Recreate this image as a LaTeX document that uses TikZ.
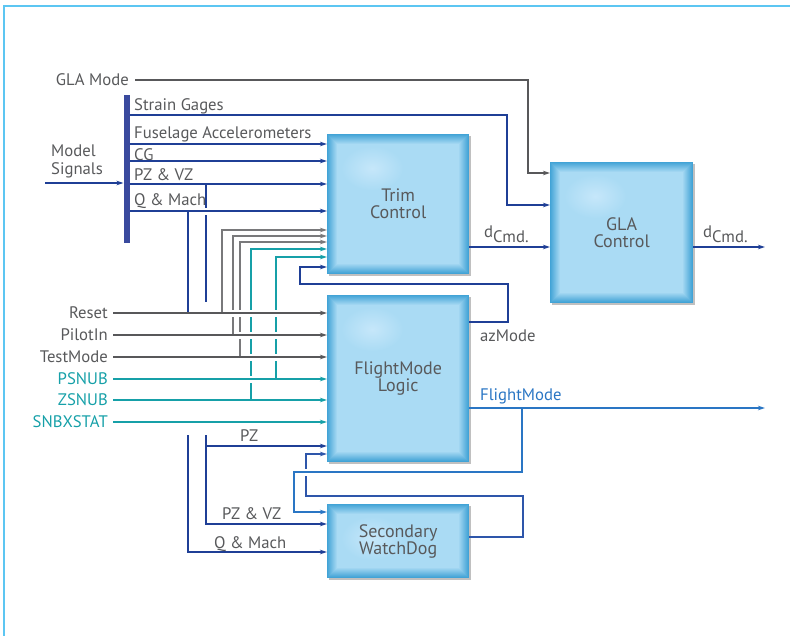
\documentclass[tikz,border=0pt]{standalone}
\usepackage{fontspec}
\setmainfont{PT Sans}
\usetikzlibrary{arrows.meta,shadows,calc}
\definecolor{txt}{HTML}{58595B}
\definecolor{gry}{HTML}{58585A}
\definecolor{gryl}{HTML}{79797B}
\definecolor{navy}{HTML}{1F3F96}
\definecolor{navyl}{HTML}{2E56AA}
\definecolor{tealc}{HTML}{16A0A8}
\definecolor{fmblue}{HTML}{2A76C4}
\definecolor{framec}{HTML}{5CC6F2}
\definecolor{busc}{HTML}{3A4A9E}
\definecolor{bedge}{HTML}{42A3D6}
\definecolor{binner}{HTML}{AADBF4}
\definecolor{bhl}{HTML}{C6E7FA}
\tikzset{
  arr/.style={-{Stealth[length=7pt,width=4.5pt]}},
  wline/.style={line width=1.8pt},
  tline/.style={line width=1.3pt},
  lbl/.style={anchor=base west, inner sep=0pt},
  lblr/.style={anchor=base east, inner sep=0pt},
  gapw/.style={draw=white, line width=7pt},
  blk/.style={anchor=north west, inner sep=0pt, align=center,
    font=\fontsize{18}{17}\selectfont, text=txt, fill=bedge,
    drop shadow={shadow xshift=1.5pt, shadow yshift=-1.5pt, opacity=0.45, fill=black!55},
    path picture={
      \foreach \k in {1,...,10}{
        \pgfmathtruncatemacro\pp{\k*10}
        \fill[binner!\pp!bedge] ([shift={(\k pt,\k pt)}]path picture bounding box.south west)
          rectangle ([shift={(-\k pt,-\k pt)}]path picture bounding box.north east);
      }
      \shade[inner color=bhl, outer color=binner]
        ([shift={(45pt,-34pt)}]path picture bounding box.north west)
        ellipse [x radius=31pt, y radius=22pt];
    }}
}
\begin{document}
\begin{tikzpicture}[x=1pt,y=-1pt, font=\fontsize{16.7}{18}\selectfont, text=txt]
\useasboundingbox (0,0) rectangle (790,635);
% frame
\draw[framec, line width=2pt] (4,636) -- (4,6) -- (791,6);

% blocks
\node[blk, minimum width=142pt, minimum height=140pt] (trim) at (327,134) {Trim\\Control};
\node[blk, minimum width=143pt, minimum height=141pt] (gla) at (550,162) {GLA\\Control};
\node[blk, minimum width=142pt, minimum height=167pt] (fm) at (327,295) {FlightMode\\Logic};
\node[blk, minimum width=142pt, minimum height=74pt] (wd) at (327,504) {Secondary\\WatchDog};

% bus bar
\node[fill=busc, minimum width=6.5pt, minimum height=148pt, inner sep=0pt, anchor=north west] (bus) at (123.5,95) {};

% labels
\node[lblr] (glamode) at (129,85) {GLA Mode};
\node[anchor=north west, align=left, inner sep=0pt] (model) at (51,145) {Model\\Signals};
\node[lbl] (lsg) at (134,110) {Strain Gages};
\node[lbl] (lfa) at (134,138) {Fuselage Accelerometers};
\node[lbl] (lcg) at (134,160) {CG};
\node[lbl] (lpv) at (134,180) {PZ \& VZ};
\node[lbl] (lqm) at (134,205) {Q \& Mach};
\node[lblr] (lreset) at (108,318) {Reset};
\node[lblr] (lpilot) at (108,340) {PilotIn};
\node[lblr] (ltest) at (108,362) {TestMode};
\node[lblr, text=tealc] (lpsnub) at (108,384) {PSNUB};
\node[lblr, text=tealc] (lzsnub) at (108,405) {ZSNUB};
\node[lblr, text=tealc] (lsnbx) at (108,427) {SNBXSTAT};
\node[lbl] (lpz) at (240,441) {PZ};
\node[lbl] (lwpv) at (222,519) {PZ \& VZ};
\node[lbl] (lwqm) at (214,548) {Q \& Mach};
\node[lbl] (ld1) at (484,237) {d\raisebox{-5pt}{Cmd.}};
\node[lbl] (ld2) at (703,237) {d\raisebox{-5pt}{Cmd.}};
\node[lbl] (laz) at (480,341) {azMode};
\node[lbl, text=fmblue] (lfmo) at (480,400) {FlightMode};

% coordinates
\coordinate (yGM) at (0,80);
\coordinate (ySG) at (0,115);
\coordinate (yFA) at (0,144);
\coordinate (yCG) at (0,161);
\coordinate (yPV) at (0,184);
\coordinate (yQM) at (0,211);
\coordinate (yD) at (0,247);
\coordinate (yAZ) at (0,322);
\coordinate (yFM) at (0,408);
\coordinate (yPZ) at (0,446);
\coordinate (yWP) at (0,524);
\coordinate (yWQ) at (0,552);
\coordinate (yWD) at (0,537);
\coordinate (tA) at (0,230);
\coordinate (tB) at (0,236);
\coordinate (tC) at (0,242);
\coordinate (tD) at (0,249);
\coordinate (tE) at (0,257);
\coordinate (msS) at (45,183);
\coordinate (gmS) at (135,80);
\coordinate (gmC) at (528,173);
\coordinate (sgC) at (507,205);
\coordinate (outD) at (765,247);
\coordinate (outF) at (765,408);
\coordinate (azA) at (508,284);
\coordinate (azB) at (300,267);
\coordinate (fbA) at (522,472);
\coordinate (fbB) at (294,512);
\coordinate (wlA) at (523,496);
\coordinate (wlB) at (306,454);
\coordinate (sR) at (113,313);
\coordinate (sP) at (113,335);
\coordinate (sT) at (113,357);
\coordinate (sPs) at (113,379);
\coordinate (sZ) at (113,400);
\coordinate (sS) at (113,422);
\coordinate (jR) at (222,313);
\coordinate (jP) at (233,335);
\coordinate (jT) at (240,357);
\coordinate (jZ) at (251,400);
\coordinate (jPs) at (276,379);
\coordinate (bq1) at (188,211);
\coordinate (bq1e) at (188,312);
\coordinate (bp1) at (206,184);
\coordinate (bp1e) at (206,302);
\coordinate (bq2) at (188,435);
\coordinate (bp2) at (206,435);

% verticals / branches (drawn first, gaps cut later)
\draw[navy, wline] (bq1) -- (bq1e);
\draw[navy, wline] (bp1) -- (bp1e);
\draw[gryl, tline, arr] (jR) |- (trim.west |- tA);
\draw[gryl, tline, arr] (jP) |- (trim.west |- tB);
\draw[gryl, tline, arr] (jT) |- (trim.west |- tC);
\draw[tealc, tline, arr] (jZ) |- (trim.west |- tD);
\draw[tealc, tline, arr] (jPs) |- (trim.west |- tE);
\draw[navyl, tline, arr] (wd.east |- yWD) -| (wlA) -| (wlB) -- (wlB -| fm.west);

% crossing gaps
\draw[gapw] (203,211) -- (209,211);
\draw[gapw] (228,313) -- (281,313);
\draw[gapw] (237,335) -- (281,335);
\draw[gapw] (244,357) -- (281,357);
\draw[gapw] (246,379) -- (256,379);
\draw[gapw] (300,472) -- (312,472);

% bus connections
\draw[navy, wline, arr] (msS) -- (msS -| bus.west);
\foreach \c in {yFA,yCG,yPV,yQM}
  \draw[navy, wline, arr] (bus.east |- \c) -- (trim.west |- \c);
\draw[navy, tline, arr] (bus.east |- ySG) -| (sgC) -- (sgC -| gla.west);
\draw[gry, tline, arr] (gmS) -| (gmC) -- (gmC -| gla.west);

% outputs
\draw[navy, wline, arr] (trim.east |- yD) -- (gla.west |- yD);
\draw[navy, wline, arr] (gla.east |- yD) -- (outD);
\draw[navy, tline, arr] (fm.east |- yAZ) -| (azA) -| (azB) -- (azB -| trim.west);
\draw[fmblue, wline, arr] (fm.east |- yFM) -- (outF);
\draw[fmblue, tline, arr] (fbA |- yFM) -- (fbA) -| (fbB) -- (fbB -| wd.west);

% mode inputs
\draw[gry, wline, arr] (sR) -- (sR -| fm.west);
\draw[gry, wline, arr] (sP) -- (sP -| fm.west);
\draw[gry, wline, arr] (sT) -- (sT -| fm.west);
\draw[tealc, wline, arr] (sPs) -- (sPs -| fm.west);
\draw[tealc, wline, arr] (sZ) -- (sZ -| fm.west);
\draw[tealc, wline, arr] (sS) -- (sS -| fm.west);

% lower signal branches
\draw[navy, wline, arr] (bp2 |- yPZ) -- (fm.west |- yPZ);
\draw[navy, tline] (bp2) -- (bp2 |- yPZ);
\draw[navy, tline, arr] (bp2 |- yPZ) |- (wd.west |- yWP);
\draw[navy, tline, arr] (bq2) |- (wd.west |- yWQ);
\end{tikzpicture}
\end{document}
